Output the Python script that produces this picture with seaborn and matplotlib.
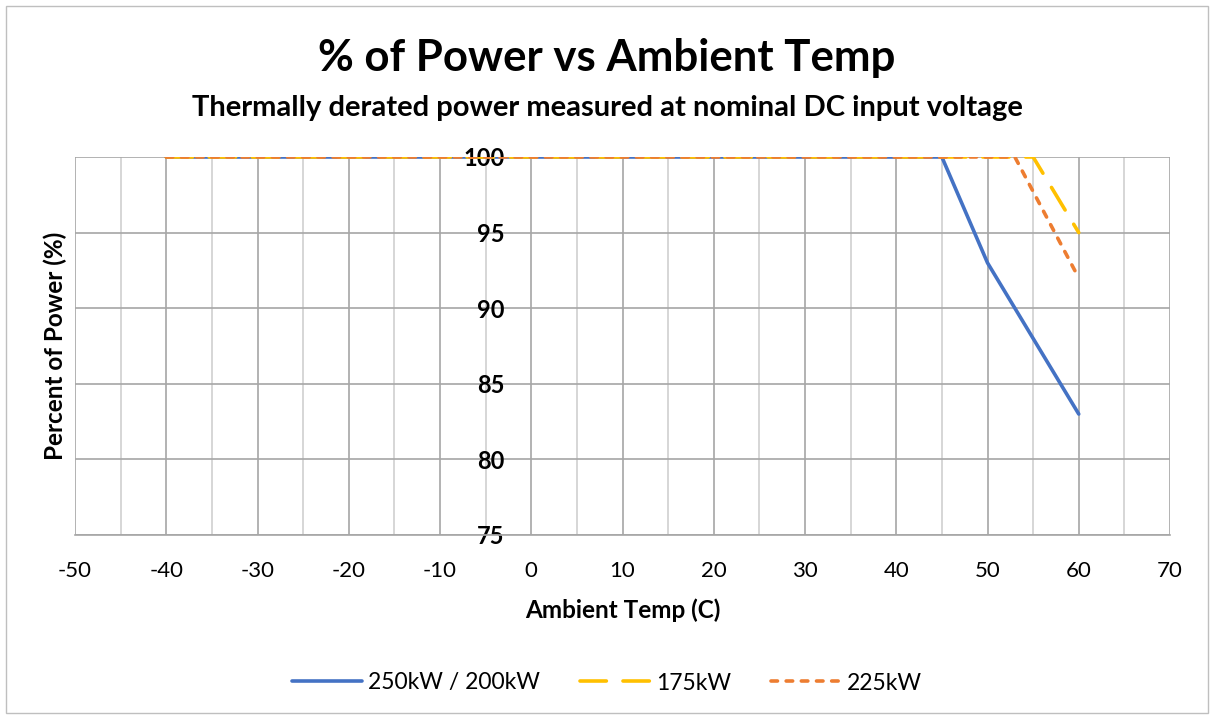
import matplotlib
matplotlib.use("Agg")
import matplotlib.pyplot as plt
from matplotlib.patches import Rectangle
from matplotlib.ticker import MultipleLocator
import pandas as pd
import seaborn as sns

# Derating curves: ambient temperature (C) vs percent of rated power
temps_250 = [-40, 45, 50, 60]
power_250 = [100, 100, 93, 83]
temps_175 = [-40, 55, 60]
power_175 = [100, 100, 95]
temps_225 = [-40, 53, 60]
power_225 = [100, 100, 92]

series_names = ["250kW / 200kW", "175kW", "225kW"]
x_ticks = [-50, -40, -30, -20, -10, 0, 10, 20, 30, 40, 50, 60, 70]
y_ticks = [75, 80, 85, 90, 95, 100]

df = pd.concat([
    pd.DataFrame({"temp": temps_250, "power": power_250, "series": series_names[0]}),
    pd.DataFrame({"temp": temps_175, "power": power_175, "series": series_names[1]}),
    pd.DataFrame({"temp": temps_225, "power": power_225, "series": series_names[2]}),
], ignore_index=True)

sns.set_theme(style="white")
plt.rcParams["font.family"] = ["Lato", "DejaVu Sans"]
plt.rcParams["axes.unicode_minus"] = False
plt.rcParams["text.color"] = "black"
plt.rcParams["axes.labelcolor"] = "black"
plt.rcParams["xtick.color"] = "black"
plt.rcParams["ytick.color"] = "black"

fig = plt.figure(figsize=(12.14, 7.19), dpi=100)
ax = fig.add_axes([75 / 1214, 1 - 535 / 719, 1095 / 1214, 378 / 719])

palette = {series_names[0]: "#4472C4", series_names[1]: "#FFC000", series_names[2]: "#ED7D31"}
dashes = {series_names[0]: "", series_names[1]: (7.3, 4.6), series_names[2]: (1.8, 2.4)}

sns.lineplot(data=df, x="temp", y="power", hue="series", style="series",
             palette=palette, dashes=dashes, estimator=None, sort=False,
             linewidth=2.6, ax=ax, legend=True, zorder=3)
for line in ax.get_lines():
    line.set_dash_capstyle("round")

# vertical axis crosses at x = 0
for side in ["top", "right"]:
    ax.spines[side].set_visible(False)
ax.spines["left"].set_position(("data", 0))
ax.spines["left"].set_visible(False)
ax.spines["bottom"].set_color("#A6A6A6")
ax.spines["bottom"].set_linewidth(1.2)

ax.set_xlim(-50, 70)
ax.set_ylim(75, 100)
ax.set_xticks(x_ticks, labels=[str(v) for v in x_ticks])
ax.set_yticks(y_ticks, labels=[str(v) for v in y_ticks])
ax.xaxis.set_minor_locator(MultipleLocator(5))

ax.grid(which="major", axis="both", color="#A6A6A6", linewidth=1.2, zorder=0)
ax.grid(which="minor", axis="x", color="#D0D0D0", linewidth=1.2, zorder=0)
ax.set_axisbelow(True)

ax.tick_params(axis="x", which="both", length=0, pad=19, labelsize=16)
ax.tick_params(axis="y", length=0, pad=19, labelsize=17)
for lab in ax.get_yticklabels():
    lab.set_fontweight("bold")

ax.set_xlabel("Ambient Temp (C)", fontsize=17.5, fontweight="bold", labelpad=12)
ax.set_ylabel("Percent of Power (%)", fontsize=17.5, fontweight="bold")
ax.yaxis.set_label_coords(-0.0073, 0.5)

fig.text(0.5, 1 - 58 / 719, "% of Power vs Ambient Temp", ha="center", va="center",
         fontsize=31.5, fontweight="bold")
fig.text(0.5, 1 - 108 / 719, "Thermally derated power measured at nominal DC input voltage",
         ha="center", va="center", fontsize=21, fontweight="bold")

handles, labels = ax.get_legend_handles_labels()
ax.get_legend().remove()
fig.legend(handles, labels, loc="center", bbox_to_anchor=(0.5, 1 - 683 / 719), ncol=3,
           frameon=False, fontsize=16.5, handlelength=3.05, columnspacing=1.75,
           handletextpad=0.26)

fig.patches.append(Rectangle((6 / 1214, 6 / 719), 1 - 12 / 1214, 1 - 12 / 719,
                             transform=fig.transFigure, fill=False,
                             edgecolor="#BFBFBF", linewidth=1.0))

fig.savefig("out.png", dpi=100, facecolor="white")
